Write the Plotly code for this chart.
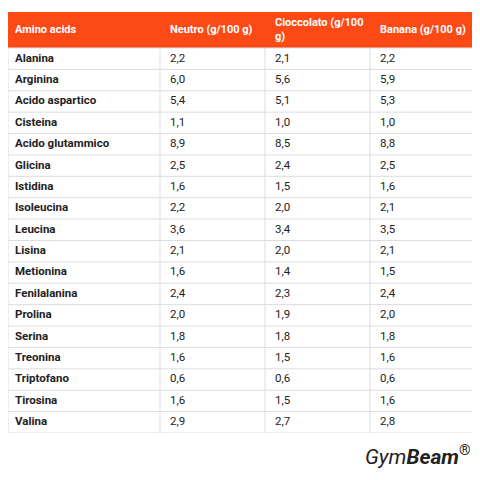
import plotly.graph_objects as go

headers = ["Amino acids", "Neutro (g/100 g)", "Cioccolato (g/100<br>g)", "Banana (g/100 g)"]
amino = ["Alanina", "Arginina", "Acido aspartico", "Cisteina", "Acido glutammico", "Glicina",
         "Istidina", "Isoleucina", "Leucina", "Lisina", "Metionina", "Fenilalanina", "Prolina",
         "Serina", "Treonina", "Triptofano", "Tirosina", "Valina"]
neutro = ["2,2", "6,0", "5,4", "1,1", "8,9", "2,5", "1,6", "2,2", "3,6", "2,1", "1,6", "2,4",
          "2,0", "1,8", "1,6", "0,6", "1,6", "2,9"]
cioccolato = ["2,1", "5,6", "5,1", "1,0", "8,5", "2,4", "1,5", "2,0", "3,4", "2,0", "1,4", "2,3",
              "1,9", "1,8", "1,5", "0,6", "1,5", "2,7"]
banana = ["2,2", "5,9", "5,3", "1,0", "8,8", "2,5", "1,6", "2,1", "3,5", "2,1", "1,5", "2,4",
          "2,0", "1,8", "1,6", "0,6", "1,6", "2,8"]

# table geometry in axis units (~pixels); page body adds an 8px offset
col_left = [0, 152, 257, 362]
text_pad = [7, 10, 10, 10]
width = 467
head_h = 36
row_h = 21.4
n = len(amino)
total_h = head_h + n * row_h
row_y = [head_h + row_h * (i + 0.5) for i in range(n)]
W = H = 472
top = 4

fig = go.Figure()

columns = [["<b>%s</b>" % a for a in amino], neutro, cioccolato, banana]
for x0, p, vals in zip(col_left, text_pad, columns):
    fig.add_trace(go.Scatter(
        x=[x0 + p] * n, y=row_y, text=vals, mode="text", textposition="middle right",
        textfont=dict(family="Roboto", size=11.5, color="#222222"),
        hoverinfo="skip", showlegend=False,
    ))

fig.add_trace(go.Scatter(
    x=[x + p for x, p in zip(col_left, text_pad)], y=[head_h / 2] * 4,
    text=["<b>%s</b>" % h for h in headers],
    mode="text", textposition="middle right",
    textfont=dict(family="Roboto", size=11, color="white"),
    hoverinfo="skip", showlegend=False,
))

shapes = [dict(type="rect", x0=0, x1=width, y0=0, y1=head_h, fillcolor="#fc4a17",
               line_width=0, layer="below")]
for k in range(n + 1):
    y = head_h + k * row_h
    shapes.append(dict(type="line", x0=0, x1=width, y0=y, y1=y,
                       line=dict(color="#dddddd", width=1)))
for x in col_left[1:] + [0, width]:
    shapes.append(dict(type="line", x0=x, x1=x, y0=head_h, y1=total_h,
                       line=dict(color="#dddddd", width=1)))

fig.add_annotation(
    x=464 / width, y=1 - (447 - top) / total_h, xref="paper", yref="paper",
    xanchor="right", yanchor="middle",
    text="<i>Gym<b>Beam</b></i><sup>®</sup>", showarrow=False,
    font=dict(family="Roboto", size=21, color="#222222"),
)

fig.update_layout(
    width=W, height=H, margin=dict(l=0, r=W - width, t=top, b=H - top - total_h),
    paper_bgcolor="white", plot_bgcolor="white", shapes=shapes,
    xaxis=dict(range=[0, width], visible=False, fixedrange=True),
    yaxis=dict(range=[total_h, 0], visible=False, fixedrange=True),
)
fig.write_html("out.html")
